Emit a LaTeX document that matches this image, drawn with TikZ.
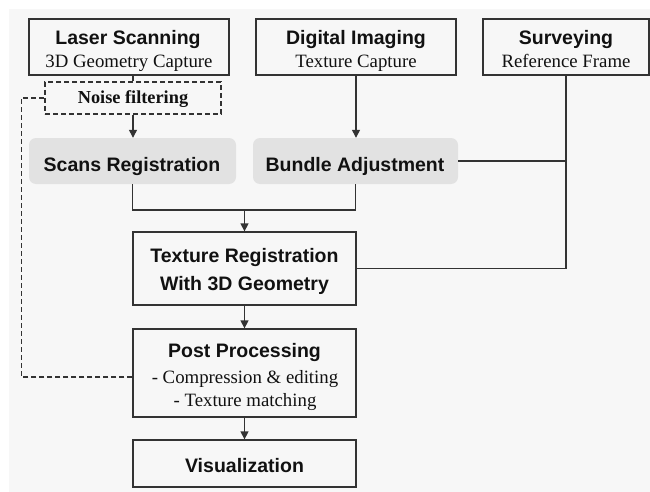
\documentclass[tikz,border=0pt]{standalone}
\usepackage{fontspec}
\setmainfont{Liberation Serif}
\setsansfont{Liberation Sans}
\usetikzlibrary{arrows.meta}
\definecolor{bgc}{HTML}{F7F7F7}
\definecolor{grayfill}{HTML}{E2E2E2}
\definecolor{linec}{HTML}{333333}
\definecolor{txtc}{HTML}{111111}
\tikzset{
  box/.style={draw=linec, line width=1.3pt, fill=bgc, rectangle, inner sep=0pt},
  softbox/.style={fill=grayfill, rectangle, rounded corners=7pt, inner sep=0pt},
  noisebox/.style={draw=linec, line width=1.2pt, dash pattern=on 5pt off 3pt, fill=bgc, rectangle, inner sep=0pt},
  conn/.style={draw=linec, line width=1.3pt},
  arr/.style={conn, -{Triangle[length=8pt,width=8pt]}},
  dashline/.style={draw=linec, line width=1.2pt, dash pattern=on 5pt off 3pt},
  hd/.style={anchor=base, inner sep=0pt, text=txtc, font=\sffamily\bfseries\fontsize{19.5}{22}\selectfont},
  sb/.style={anchor=base, inner sep=0pt, text=txtc, font=\rmfamily\fontsize{18.8}{21}\selectfont},
  sbb/.style={anchor=base, inner sep=0pt, text=txtc, font=\rmfamily\bfseries\fontsize{18.3}{21}\selectfont},
}
\begin{document}
\begin{tikzpicture}[x=1pt,y=-1pt]
\useasboundingbox (0,0) rectangle (650,492);
\fill[white] (0,0) rectangle (650,492);
\fill[bgc] (9,9) rectangle (650,492);

% boxes
\node[box, minimum width=200pt, minimum height=56pt] (laser) at (129,47) {};
\node[box, minimum width=200pt, minimum height=56pt] (digital) at (356,47) {};
\node[box, minimum width=166pt, minimum height=56pt] (survey) at (566,47) {};
\node[noisebox, minimum width=176pt, minimum height=32pt] (noise) at (133,98) {};
\node[softbox, minimum width=207pt, minimum height=46pt] (scans) at (132.5,161) {};
\node[softbox, minimum width=205pt, minimum height=46pt] (bundle) at (355.5,161) {};
\node[box, minimum width=223pt, minimum height=73pt] (texture) at (244.5,268.5) {};
\node[box, minimum width=223pt, minimum height=88pt] (post) at (244.5,373) {};
\node[box, minimum width=223pt, minimum height=47pt] (visual) at (244.5,463.5) {};

% texts
\node[hd] (laser-h) at (128,45) {Laser Scanning};
\node[sb] (laser-s) at (129,68) {3D Geometry Capture};
\node[hd] (digital-h) at (356,45) {Digital Imaging};
\node[sb] (digital-s) at (356,68) {Texture Capture};
\node[hd] (survey-h) at (566,45) {Surveying};
\node[sb] (survey-s) at (566,68) {Reference Frame};
\node[sbb] (noise-t) at (133,104) {Noise filtering};
\node[hd] (scans-t) at (132,171) {Scans Registration};
\node[hd] (bundle-t) at (355,171) {Bundle Adjustment};
\node[hd] (texture-h1) at (244.5,262) {Texture Registration};
\node[hd] (texture-h2) at (244.5,290) {With 3D Geometry};
\node[hd] (post-h) at (244.5,357) {Post Processing};
\node[sb] (post-s1) at (245,383) {- Compression \& editing};
\node[sb] (post-s2) at (245,406) {- Texture matching};
\node[hd] (visual-t) at (244.5,472) {Visualization};

% connectors
\draw[conn] (noise.north) -- (noise.north |- laser.south);
\draw[arr] (noise.south) -- (noise.south |- scans.north);
\draw[arr] (digital.south) -- (bundle.north -| digital.south);
\coordinate (join) at (244.5,210);
\draw[conn] (scans.south) |- (join) -| (bundle.south);
\draw[arr] (join) -- (texture.north);
\draw[conn] (survey.south) |- (texture.east);
\draw[conn] (bundle.east) -- (bundle.east -| survey.south);
\draw[arr] (texture.south) -- (post.north);
\draw[arr] (post.south) -- (visual.north);
\draw[dashline] ([yshift=-4pt]post.west) -| ([xshift=-23pt]noise.west) -- (noise.west);
\end{tikzpicture}
\end{document}
